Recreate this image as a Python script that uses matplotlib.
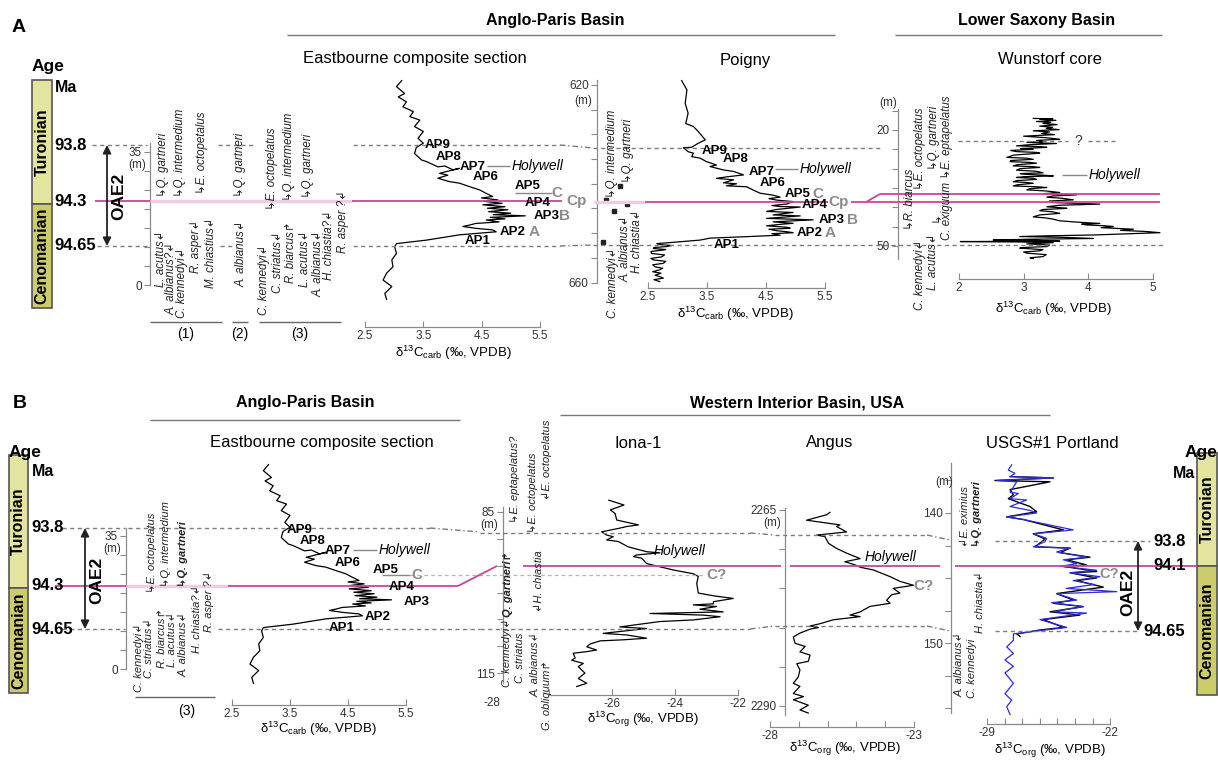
import matplotlib
matplotlib.use("Agg")
import matplotlib.pyplot as plt
from matplotlib.patches import Rectangle

W, H = 1218, 761

# ---------------- data ----------------
# Eastbourne composite section (height in m above base, d13C carb)
east_height = [53.8, 52.2, 50.4, 49.5, 48.2, 46.9, 45.6, 44.3, 43.4, 41.7,
               40.4, 38.6, 37.3, 36.2, 34.6, 32.9, 32.5, 31.1, 31.3, 30.3,
               30.7, 29.4, 28.9, 28.1, 27.2, 26.8, 25.9, 25.0, 24.1, 23.3,
               22.9, 22.4, 22.0, 21.5, 21.1, 20.6, 20.2, 19.8, 19.3, 18.9,
               18.5, 18.2, 17.8, 17.4, 17.1, 16.6, 16.2, 15.8, 15.4, 14.9,
               14.5, 14.0, 13.2, 11.8, 10.9, 10.0, 8.3, 6.6, 4.8, 3.1,
               1.3, -0.4, -2.2, -3.8]
east_d13c = [3.13, 3.04, 3.18, 3.07, 3.21, 3.15, 3.33, 3.27, 3.44, 3.35,
             3.50, 3.41, 3.50, 3.38, 3.35, 3.47, 3.55, 3.75, 3.87, 4.01,
             4.12, 3.78, 3.92, 3.75, 3.95, 4.12, 4.29, 4.47, 4.58, 4.69,
             4.50, 4.78, 4.55, 4.85, 4.52, 4.90, 4.60, 4.95, 4.62, 5.00,
             4.70, 5.25, 4.65, 4.90, 4.58, 4.80, 4.40, 4.30, 4.18, 4.41,
             4.69, 4.75, 4.12, 3.55, 3.04, 3.01, 3.04, 2.96, 2.98, 2.87,
             2.81, 2.96, 2.84, 2.87]

# Poigny (depth m, d13C carb)
poigny_depth = [619.1, 621.0, 623.7, 625.7, 627.8, 628.4, 629.4, 631.1, 631.8, 632.6,
                632.7, 633.5, 633.8, 634.5, 634.8, 635.5, 636.2, 636.5, 637.2, 637.5,
                638.2, 638.6, 638.9, 639.2, 639.8, 640.0, 640.4, 640.6, 641.3, 641.9,
                642.3, 642.7, 643.0, 643.3, 643.6, 644.1, 644.4, 644.6, 644.7, 645.2,
                645.6, 645.8, 646.3, 646.5, 647.0, 647.3, 647.7, 648.0, 648.2, 648.5,
                648.8, 649.0, 649.2, 649.5, 649.7, 649.9, 650.1, 650.4, 650.7, 651.0,
                651.4, 651.9, 652.1, 652.3, 652.5, 652.7, 652.9, 653.1, 653.3, 653.4,
                653.7, 654.1, 654.4, 654.8, 655.1, 655.4, 655.7, 656.1, 656.4, 656.8,
                657.1, 657.4, 657.8, 658.1, 658.5, 658.8, 659.1, 659.4, 659.8]
poigny_d13c = [3.07, 3.16, 3.13, 3.18, 3.14, 3.27, 3.35, 3.47, 3.35, 3.24,
               3.10, 3.18, 3.27, 3.24, 3.38, 3.49, 3.66, 3.55, 3.78, 3.95,
               4.12, 3.83, 3.66, 3.95, 3.78, 4.00, 3.83, 4.17, 4.29, 4.40,
               4.62, 4.74, 4.55, 4.68, 4.96, 4.85, 4.60, 4.74, 5.08, 4.68,
               4.51, 4.96, 4.62, 5.08, 4.51, 5.30, 4.62, 4.96, 4.75, 4.51,
               4.85, 4.91, 4.55, 4.68, 4.85, 4.96, 4.60, 4.74, 4.17, 3.55,
               3.38, 2.87, 2.65, 2.70, 2.90, 2.82, 2.60, 2.59, 2.80, 2.76,
               2.55, 2.56, 2.78, 2.73, 2.55, 2.59, 2.80, 2.76, 2.58, 2.62,
               2.75, 2.70, 2.58, 2.72, 2.62, 2.70, 2.76, 2.60, 2.70]
poigny_sample_depth = [651.8, 643.3, 645.5, 640.4, 644.1]

# Wunstorf core (depth m, d13C carb)
wun_depth = [17.0, 17.1, 17.2, 17.5, 17.8, 18.0, 18.3, 18.6, 19.0, 19.3,
             19.6, 19.9, 20.2, 20.5, 20.9, 21.2, 21.6, 22.0, 22.4, 22.7,
             23.0, 23.2, 23.5, 23.8, 24.1, 24.3, 24.5, 24.8, 25.0, 25.3,
             25.6, 25.8, 26.0, 26.5, 27.1, 27.3, 27.6, 27.9, 28.2, 28.4,
             28.6, 29.0, 29.3, 29.5, 29.7, 30.0, 30.4, 30.7, 31.1, 31.3,
             31.5, 31.7, 31.9, 32.1, 32.3, 32.5, 32.8, 33.1, 33.4, 33.6,
             33.8, 34.2, 34.5, 34.7, 34.9, 35.2, 35.5, 35.8, 36.2, 36.5,
             36.8, 37.1, 37.4, 37.7, 38.1, 38.4, 38.8, 39.0, 39.2, 39.5,
             39.9, 40.1, 40.3, 40.6, 40.9, 41.2, 41.6, 42.0, 42.5, 42.8,
             43.1, 43.5, 43.8, 44.0, 44.2, 44.4, 44.6, 44.8, 45.0, 45.3,
             45.7, 46.0, 46.3, 46.6, 46.9, 47.2, 47.4, 47.6, 47.8, 48.1,
             48.3, 48.5, 48.6, 48.8, 48.9, 49.0, 49.2, 49.5, 49.8, 50.2,
             50.4, 50.6, 51.0, 51.3, 51.6, 51.9, 52.3, 52.8, 53.1, 53.3]
wun_d13c = [3.15, 3.45, 3.25, 3.50, 3.20, 3.42, 3.30, 3.52, 3.25, 3.45,
            3.35, 3.55, 3.15, 3.40, 3.28, 3.48, 3.00, 3.35, 3.56, 3.20,
            3.30, 3.05, 3.51, 3.10, 2.89, 3.25, 3.36, 2.95, 3.15, 2.80,
            2.89, 3.20, 3.25, 2.85, 2.74, 3.05, 3.15, 2.80, 2.79, 3.10,
            3.20, 2.90, 2.84, 3.15, 3.25, 2.95, 2.89, 3.20, 3.30, 2.95,
            3.05, 3.30, 3.46, 3.00, 2.89, 3.15, 3.20, 2.90, 2.84, 3.05,
            3.15, 2.90, 2.84, 3.20, 3.36, 3.10, 3.05, 3.35, 3.56, 3.30,
            3.82, 3.45, 3.36, 3.60, 3.77, 3.40, 3.46, 3.80, 4.18, 3.55,
            3.36, 3.55, 3.67, 3.30, 3.25, 3.45, 3.56, 3.25, 3.15, 3.35,
            3.46, 3.55, 3.77, 3.95, 4.18, 3.90, 3.98, 4.25, 4.39, 4.20,
            4.70, 4.50, 4.90, 5.11, 4.60, 4.08, 3.40, 2.94, 3.60, 4.08,
            3.10, 2.53, 3.20, 3.56, 2.02, 2.90, 3.46, 3.05, 3.40, 3.36,
            3.05, 2.94, 3.30, 3.25, 3.00, 3.05, 3.35, 3.30, 3.10, 3.15]

# Iona-1 (depth m, d13C org)
iona_depth = [82.8, 83.7, 84.6, 85.3, 86.5, 87.4, 87.7, 88.0, 88.7, 89.3,
              89.6, 90.2, 90.5, 91.5, 92.4, 92.6, 93.0, 93.3, 93.6, 94.6,
              95.2, 95.8, 96.5, 97.0, 98.3, 100.1, 100.6, 101.1, 101.7, 102.1,
              102.3, 102.6, 103.1, 103.6, 103.9, 104.2, 104.5, 105.1, 105.4, 106.4,
              106.7, 107.6, 107.9, 108.5, 108.8, 109.0, 109.6, 110.1, 110.7, 111.0,
              111.3, 112.2, 112.6, 113.2, 113.8, 115.0, 116.0, 116.9, 117.5]
iona_d13c = [-26.10, -25.62, -26.05, -25.90, -25.85, -25.16, -25.53, -25.75, -26.33, -26.17,
             -25.96, -26.17, -25.80, -25.48, -24.90, -24.48, -25.22, -25.32, -25.06, -24.90,
             -24.48, -24.05, -23.42, -23.26, -23.31, -23.26, -22.78, -22.15, -22.78, -22.78,
             -23.42, -22.68, -23.21, -22.47, -24.79, -23.10, -22.57, -23.42, -24.48, -25.75,
             -24.90, -26.28, -25.53, -24.90, -25.64, -26.38, -26.70, -26.80, -26.49, -26.80,
             -27.23, -27.17, -27.28, -26.91, -27.07, -26.86, -27.07, -26.80, -27.12]

# Angus (depth m, d13C org)
angus_depth = [2265.3, 2265.6, 2266.3, 2266.9, 2267.1, 2267.8, 2268.2, 2268.4, 2269.25, 2269.9,
               2270.5, 2271.2, 2271.6, 2272.0, 2272.3, 2272.65, 2273.5, 2274.1, 2274.6, 2275.0,
               2275.6, 2275.8, 2276.5, 2276.9, 2277.3, 2278.0, 2278.4, 2278.6, 2279.0, 2279.5,
               2279.8, 2280.0, 2280.2, 2280.7, 2281.2, 2282.0, 2282.4, 2283.1, 2283.5, 2284.3,
               2284.6, 2285.4, 2286.3, 2287.1, 2287.5, 2288.4, 2288.8, 2289.2, 2289.9, 2290.5,
               2290.9]
angus_d13c = [-25.92, -26.03, -26.73, -25.57, -25.69, -25.34, -26.38, -26.09, -25.97, -25.69,
              -25.34, -24.87, -25.40, -25.05, -24.87, -24.41, -23.83, -23.49, -23.02, -23.72,
              -23.49, -23.77, -23.95, -23.83, -24.53, -24.87, -25.22, -24.87, -25.80, -26.26,
              -26.61, -26.32, -26.61, -26.96, -27.19, -27.13, -26.78, -26.96, -26.61, -26.67,
              -27.07, -26.96, -27.02, -27.19, -26.96, -27.19, -26.84, -27.19, -26.67, -26.96,
              -26.67]

# USGS#1 Portland (depth m, d13C org), two records
port_blue_depth = [136.3, 136.7, 136.95, 137.2, 137.3, 137.5, 137.6, 138.0, 138.4, 138.5,
                   138.9, 139.0, 139.5, 139.8, 140.0, 140.3, 140.5, 141.3, 141.6, 141.95,
                   142.2, 142.6, 142.7, 143.0, 143.4, 143.6, 143.9, 144.1, 144.4, 144.6,
                   144.9, 145.2, 145.5, 145.8, 146.05, 146.2, 146.7, 146.9, 147.2, 147.6,
                   147.7, 148.2, 148.8, 149.05, 149.3, 149.8, 150.3, 150.8, 151.3, 151.8,
                   152.3, 153.1, 153.9, 154.4, 154.9, 155.5]
port_blue_d13c = [-27.60, -27.79, -27.41, -27.69, -25.23, -28.45, -27.31, -27.50, -27.69, -27.22,
                  -27.69, -26.75, -27.69, -26.56, -26.18, -27.88, -26.94, -24.10, -26.37, -25.61,
                  -25.70, -26.37, -24.28, -25.04, -23.34, -24.66, -23.90, -24.85, -22.77, -24.28,
                  -22.58, -24.10, -22.90, -24.50, -21.63, -25.04, -23.90, -25.33, -23.53, -25.23,
                  -23.34, -25.99, -24.47, -25.99, -27.50, -27.50, -27.88, -27.50, -27.98, -27.50,
                  -27.98, -27.50, -27.98, -27.60, -27.88, -27.69]
port_black_depth = [137.2, 137.3, 137.5, 137.6, 138.2, 138.6, 138.9, 139.5, 139.9, 140.3,
                    140.5, 141.3, 141.6, 142.0, 142.6, 142.7, 143.05, 143.4, 143.6, 144.0,
                    144.1, 144.5, 144.6, 145.0, 145.2, 145.7, 146.2, 146.7, 146.95, 147.2,
                    147.6, 147.85, 148.2, 148.8, 149.0, 149.3, 149.5]
port_black_d13c = [-27.69, -25.23, -28.55, -25.42, -27.69, -27.50, -27.79, -26.56, -26.18, -27.88,
                   -26.94, -24.66, -26.37, -25.70, -26.27, -24.28, -24.85, -23.15, -24.47, -23.34,
                   -24.66, -22.77, -24.28, -22.77, -23.90, -22.39, -25.04, -24.10, -25.23, -23.53,
                   -25.42, -23.72, -25.80, -24.66, -25.99, -27.31, -27.12]

stages = ["Turonian", "Cenomanian"]
ages_a = ["93.8", "94.3", "94.65"]
ages_b_right = ["93.8", "94.1", "94.65"]
ap_names = ["AP9", "AP8", "AP7", "AP6", "AP5", "AP4", "AP3", "AP2", "AP1"]

carb_label = "δ$^{13}$C$_{carb}$ (‰, VPDB)"
org_label = "δ$^{13}$C$_{org}$ (‰, VPDB)"

# ---------------- style ----------------
plt.rcParams["font.family"] = ["Liberation Sans", "DejaVu Sans"]
plt.rcParams["mathtext.default"] = "regular"

GREY = "#8a8a8a"
TXT = "#333333"
PINK = "#c4479c"
PINK_L = "#efcbe4"
DASH = "#7c7c7c"
TUR = "#e3e49e"
CEN = "#cccc6c"

fig = plt.figure(figsize=(W / 100, H / 100), dpi=100)
ov = fig.add_axes([0, 0, 1, 1], zorder=10)
ov.set_xlim(0, W)
ov.set_ylim(H, 0)
ov.axis("off")


def txt(x, y, s, size=9, **kw):
    kw.setdefault("ha", "center")
    kw.setdefault("va", "center")
    ov.text(x, y, s, fontsize=size, **kw)


def seg(xs, ys, color=DASH, lw=1.0, ls="-"):
    ov.plot(xs, ys, color=color, lw=lw, ls=ls, solid_capstyle="butt")


def dashed(x0, x1, y0, y1=None):
    seg([x0, x1], [y0, y0 if y1 is None else y1], ls=(0, (3, 2.5)))


def dashdot(x0, x1, y0, y1):
    seg([x0, x1], [y0, y1], ls=(0, (4, 2, 1, 2)))


def pink(x0, x1, y0, y1=None, light=False):
    seg([x0, x1], [y0, y0 if y1 is None else y1],
        color=PINK_L if light else PINK, lw=2.4 if light else 1.3)


def species(x, y, s, bold=False, size=8.3):
    ov.text(x, y, s, rotation=90, rotation_mode="anchor", ha="left", va="center",
            fontsize=size, style="italic", weight="bold" if bold else "normal", color="#222222")


def age_column(x0, x1, top, mid, bottom):
    ov.add_patch(Rectangle((x0, top), x1 - x0, mid - top, facecolor=TUR, edgecolor="#555555", lw=1.2))
    ov.add_patch(Rectangle((x0, mid), x1 - x0, bottom - mid, facecolor=CEN, edgecolor="#555555", lw=1.2))
    xc = (x0 + x1) / 2
    txt(xc, (top + mid) / 2, stages[0], 11.5, weight="bold", rotation=90)
    txt(xc, (mid + bottom) / 2, stages[1], 11.5, weight="bold", rotation=90)


def oae_arrow(x, y0, y1, xl, yl):
    ov.annotate("", xy=(x, y0), xytext=(x, y1),
                arrowprops=dict(arrowstyle="<|-|>", color="#222222", lw=1.3,
                                mutation_scale=12, shrinkA=0, shrinkB=0))
    txt(xl, yl, "OAE2", 12.5, weight="bold", rotation=90)


def val(px, m):
    px0, v0, s = m
    return v0 + (px - px0) / s


def panel(box, xmap, ymap, xticks, xlabels, xbounds, yticks, ylabels, ybounds, spine_px=None):
    left, top, right, bottom = box
    ax = fig.add_axes([left / W, 1 - bottom / H, (right - left) / W, (bottom - top) / H])
    ax.set_xlim(val(left, xmap), val(right, xmap))
    ax.set_ylim(val(bottom, ymap), val(top, ymap))
    ax.patch.set_visible(False)
    ax.spines["top"].set_visible(False)
    ax.spines["right"].set_visible(False)
    for sp in ["left", "bottom"]:
        ax.spines[sp].set_color(GREY)
        ax.spines[sp].set_linewidth(0.9)
    ax.spines["bottom"].set_bounds(*xbounds)
    ax.spines["left"].set_bounds(*ybounds)
    if spine_px is not None:
        ax.spines["left"].set_position(("data", val(spine_px, xmap)))
    ax.set_xticks(xticks)
    ax.set_xticklabels(xlabels)
    ax.set_yticks(yticks)
    ax.set_yticklabels(ylabels)
    ax.tick_params(axis="x", direction="in", length=4, color=GREY, labelsize=8.5,
                   labelcolor=TXT, pad=2)
    ax.tick_params(axis="y", direction="out", length=4, color=GREY, labelsize=8.5,
                   labelcolor=TXT, pad=2)
    return ax


def only_ends(ticks):
    return [str(t) if i in (0, len(ticks) - 1) else "" for i, t in enumerate(ticks)]


# ======================= PANEL A =======================
txt(19, 28, "A", 14, weight="bold")
txt(555, 20, "Anglo-Paris Basin", 11.5, weight="bold")
seg([287, 835], [35, 35], color="#777777", lw=1.0)
txt(1037, 20, "Lower Saxony Basin", 11.5, weight="bold")
seg([895, 1162], [35, 35], color="#777777", lw=1.0)
txt(415, 58, "Eastbourne composite section", 12)
txt(745, 60, "Poigny", 12)
txt(1050, 60, "Wunstorf core", 12)

txt(32, 67, "Age", 12.5, weight="bold", ha="left")
age_column(32, 52, 80, 204, 308)
txt(55, 88, "Ma", 11.5, weight="bold", ha="left")
for lab, y in zip(ages_a, [145, 201, 246]):
    txt(54, y, lab, 12, weight="bold", ha="left")
oae_arrow(107, 145, 246, 119, 196)

# time lines
dashed(92, 147, 145)
dashed(218, 253, 145)
dashed(353, 560, 145)
dashdot(560, 593, 145, 148)
dashed(593, 880, 148)
dashed(958, 1068, 141)
dashed(1088, 1115, 141)
txt(1078, 141, "?", 10, color="#333333")
dashed(97, 147, 246)
dashed(220, 235, 246)
dashed(353, 560, 246)
dashdot(560, 593, 246, 245)
dashed(593, 1165, 245)

pink(95, 150, 201)
pink(150, 352, 201, light=True)
pink(352, 562, 201)
pink(594, 645, 201.5, light=True)
pink(645, 828, 201.5)
pink(851, 867, 201.5)
pink(867, 880, 201.5, 194)
pink(880, 1160, 194)
pink(867, 1160, 201.5)

# Eastbourne (A)
axA1 = panel((150, 75, 545, 327), (365, 2.5, 58.3), (285, 0, -3.8),
             [2.5, 3.5, 4.5, 5.5], ["2.5", "3.5", "4.5", "5.5"], (2.5, 5.5),
             list(range(0, 40, 5)), only_ends(list(range(0, 40, 5))), (0, 37.4))
axA1.plot(east_d13c, east_height, color="black", lw=0.9, clip_on=False)
txt(146, 165, "(m)", 8.5, ha="right", color=TXT)
txt(453, 353, carb_label, 9.5)

# Poigny
poigny_x = (648, 2.5, 59)
axA2 = panel((597, 78, 830, 288), poigny_x, (85, 620, 4.94),
             [2.5, 3.5, 4.5, 5.5], ["2.5", "3.5", "4.5", "5.5"], (2.5, 5.5),
             list(range(620, 665, 5)), only_ends(list(range(620, 665, 5))), (619, 660))
axA2.plot(poigny_d13c, poigny_depth, color="black", lw=0.9, clip_on=False)
sample_x = [val(px, poigny_x) for px in [603, 606, 614, 620, 627]]
axA2.plot(sample_x, poigny_sample_depth, ls="none", marker="s", ms=3.5, color="#222222", clip_on=False)
txt(592, 101, "(m)", 8.5, ha="right", color=TXT)
txt(735, 314, carb_label, 9.5)

# Wunstorf
axA3 = panel((898, 105, 1160, 279), (959, 2, 64.6), (130, 20, 3.86),
             [2, 3, 4, 5], ["2", "3", "4", "5"], (2, 5),
             list(range(15, 55, 5)), ["", "20", "", "", "", "", "", "50"], (14.6, 53.4))
axA3.plot(wun_d13c, wun_depth, color="black", lw=0.9, clip_on=False)
txt(888, 103, "(m)", 8.5, color=TXT)
txt(1053, 309, carb_label, 9.5)

# AP labels (A)
for name, (x, y) in zip(ap_names, [(438, 145), (449, 157), (473, 167), (486, 177), (528, 186),
                                    (538, 203), (547, 216), (513, 232), (478, 241)]):
    txt(x, y, name, 9.5, weight="bold")
for name, (x, y) in zip(ap_names, [(715, 151), (736, 159), (762, 172), (773, 183), (798, 194),
                                    (815, 205), (832, 220), (810, 233), (727, 245)]):
    txt(x, y, name, 9.5, weight="bold")
seg([487, 510], [166, 166], color="#888888")
txt(512, 166, "Holywell", 10, style="italic", ha="left")
seg([515, 552], [193, 193], color="#888888")
for s, x, y in [("C", 557, 193), ("Cp", 577, 201), ("B", 565, 216), ("A", 534, 232),
                ("C", 818, 194), ("Cp", 839, 202), ("B", 852, 220), ("A", 830, 233)]:
    txt(x, y, s, 11, weight="bold", color="#8c8c8c")
seg([775, 798], [169, 169], color="#888888")
txt(800, 169, "Holywell", 10, style="italic", ha="left")
seg([1062, 1087], [175, 175], color="#888888")
txt(1089, 175, "Holywell", 10, style="italic", ha="left")

# biostratigraphy A
for x, y, s in [(161, 287, "L. acutus↲"), (171, 315, "A. albianus?↲"), (182, 318, "C. kennedyi↲"),
                (196, 273, "R. asper↲"), (211, 288, "M. chiastius↲"), (163, 197, "↳Q. gartneri"),
                (180, 197, "↳Q. intermedium"), (202, 194, "↳E. octopetalus"),
                (240, 197, "↳Q. gartneri"), (241, 287, "A. albianus↲"),
                (264, 315, "C. kennedyi↲"), (278, 293, "C. striatus↲"), (291, 283, "R. biarcus↱"),
                (305, 287, "L. acutus↲"), (318, 297, "A. albianus↲"), (329, 280, "H. chiastia?↲"),
                (343, 253, "R. asper ?↲"), (272, 210, "↳E. octopelatus"),
                (289, 201, "↳Q. intermedium"), (308, 198, "↳Q. gartneri"),
                (613, 318, "C. kennedyi↲"), (625, 282, "A. albianus↲"), (637, 273, "H. chiastia↲"),
                (612, 198, "↳Q. intermedium"), (628, 183, "↳Q. gartneri"),
                (920, 310, "C. kennedyi↲"), (910, 230, "↳R. biarcus"), (933, 290, "L. acutus↲"),
                (920, 190, "↳E. octopelatus"), (934, 170, "↳Q. gartneri"),
                (947, 240, "C. exiguum ↳E. eptapelatus")]:
    species(x, y, s)
species(937, 222, "↳")
seg([150, 222], [322, 322], color="#666666")
seg([232, 248], [322, 322], color="#666666")
seg([259, 341], [322, 322], color="#666666")
txt(186, 334, "(1)", 10)
txt(240, 334, "(2)", 10)
txt(300, 334, "(3)", 10)

# ======================= PANEL B =======================
txt(20, 404, "B", 14, weight="bold")
txt(305, 403, "Anglo-Paris Basin", 11.5, weight="bold")
seg([150, 460], [420, 420], color="#777777", lw=1.0)
txt(797, 403, "Western Interior Basin, USA", 11.5, weight="bold")
seg([560, 1050], [415, 415], color="#777777", lw=1.0)
txt(322, 443, "Eastbourne composite section", 12)
txt(638, 443, "Iona-1", 12)
txt(830, 443, "Angus", 12)
txt(1052, 443, "USGS#1 Portland", 12)

txt(9, 452, "Age", 12.5, weight="bold", ha="left")
age_column(9, 28, 455, 588, 693)
txt(32, 472, "Ma", 11.5, weight="bold", ha="left")
for lab, y in zip(ages_a, [528, 586, 629]):
    txt(31, y, lab, 12, weight="bold", ha="left")
oae_arrow(85, 528, 629, 97, 580)

txt(1201, 452, "Age", 12.5, weight="bold")
age_column(1197, 1217, 453, 566, 695)
txt(1195, 473, "Ma", 11.5, weight="bold", ha="right")
for lab, x, y in zip(ages_b_right, [1153, 1153, 1143], [541, 566, 631]):
    txt(x, y, lab, 12, weight="bold", ha="left")
oae_arrow(1138, 541, 631, 1128, 592)

dashed(62, 125, 528)
dashed(128, 430, 528)
dashdot(430, 480, 528, 532)
dashed(480, 750, 533)
dashdot(750, 775, 533, 535)
dashed(775, 927, 535)
dashdot(927, 950, 535, 540)
dashed(995, 1150, 541)
dashed(62, 125, 629)
dashed(218, 480, 629)
dashed(480, 750, 629)
dashdot(750, 775, 629, 626)
dashed(775, 927, 626)
dashdot(927, 950, 626, 631)
dashed(995, 1140, 631)
seg([410, 705], [575, 575], color="#b5b5b5", lw=0.9, ls=(0, (3, 2.5)))

pink(55, 126, 586)
pink(126, 228, 586, light=True)
pink(228, 458, 586)
pink(458, 497, 586, 566)
pink(523, 781, 566)
pink(790, 940, 566)
pink(955, 1197, 566)

# Eastbourne (B)
axB1 = panel((126, 460, 412, 705), (232, 2.5, 58), (669, 0, -3.8),
             [2.5, 3.5, 4.5, 5.5], ["2.5", "3.5", "4.5", "5.5"], (2.5, 5.5),
             list(range(0, 40, 5)), only_ends(list(range(0, 40, 5))), (0, 37.1))
axB1.plot(east_d13c, east_height, color="black", lw=0.9, clip_on=False)
txt(121, 549, "(m)", 8.5, ha="right", color=TXT)
txt(318, 729, carb_label, 9.5)

# Iona-1
axB2 = panel((503, 500, 745, 695), (549, -28, 31.5), (512, 85, 5.37),
             [-28, -26, -24, -22], ["", "-26", "-24", "-22"], (-28, -22),
             list(range(85, 120, 5)), only_ends(list(range(85, 120, 5))), (84.1, 116.8))
axB2.plot(iona_d13c, iona_depth, color="black", lw=0.9, clip_on=False)
txt(489, 525, "(m)", 8.5, color=TXT)
txt(492, 703, "-28", 8.5, color=TXT)
txt(643, 719, org_label, 9.5)

# Angus
axB3 = panel((770, 495, 920, 727), (770, -28, 28.8), (510, 2265, 7.84),
             list(range(-28, -22)), ["-28", "", "", "", "", "-23"], (-28, -23),
             list(range(2265, 2295, 5)), only_ends(list(range(2265, 2295, 5))), (2264.8, 2291.2),
             spine_px=785)
axB3.plot(angus_d13c, angus_depth, color="black", lw=0.9, clip_on=False)
txt(772, 523, "(m)", 8.5, color=TXT)
txt(845, 748, org_label, 9.5)

# Portland
axB4 = panel((951, 455, 1115, 724), (987, -29, 17.6), (513, 140, 13),
             list(range(-29, -21)), ["-29", "", "", "", "", "", "", "-22"], (-29, -22),
             [137.5 + 2.5 * i for i in range(8)], ["", "140", "", "", "", "150", "", ""],
             (136.15, 155.4))
axB4.plot(port_black_d13c, port_black_depth, color="black", lw=1.0, clip_on=False)
axB4.plot(port_blue_d13c, port_blue_depth, color="#2b2bdc", lw=0.9, clip_on=False)
txt(944, 482, "(m)", 8.5, color=TXT)
txt(1050, 750, org_label, 9.5)

# AP labels (B)
for name, (x, y) in zip(ap_names, [(300, 530), (313, 541), (338, 551), (348, 563), (386, 570),
                                    (402, 587), (417, 602), (378, 617), (342, 628)]):
    txt(x, y, name, 9.5, weight="bold")
seg([353, 377], [550, 550], color="#888888")
txt(379, 550, "Holywell", 10, style="italic", ha="left")
seg([382, 410], [575, 575], color="#888888")
txt(417, 575, "C", 11, weight="bold", color="#8c8c8c")
txt(654, 551, "Holywell", 10, style="italic", ha="left")
txt(706, 575, "C?", 11, weight="bold", color="#8c8c8c", ha="left")
txt(865, 557, "Holywell", 10, style="italic", ha="left")
txt(913, 586, "C?", 11, weight="bold", color="#8c8c8c", ha="left")
txt(1099, 574, "C?", 10.5, weight="bold", color="#8c8c8c", ha="left")

# biostratigraphy B
for x, y, s, b in [(139, 692, "C. kennedyi↲", False), (149, 678, "C. striatus↲", False),
                   (162, 668, "R. biarcus↱", False), (172, 667, "L. acutus↲", False),
                   (184, 677, "A. albianus↲", False), (197, 653, "H. chiastia?↲", False),
                   (209, 632, "R. asper ?↲", False), (152, 593, "↳E. octopelatus", False),
                   (166, 587, "↳Q. intermedium", False), (183, 587, "↳Q. gartneri", True),
                   (507, 687, "C. kennedyi↲", False), (520, 683, "C. striatus", False),
                   (508, 617, "Q. gartneri↱", True), (515, 523, "↳E. eptapelatus?", False),
                   (533, 533, "↳E. octopelatus", False), (547, 500, "↲E. octopelatus", False),
                   (539, 612, "↲H. chiastia", False), (536, 697, "A. albianus↲", False),
                   (547, 730, "G. obliquum↱", False),
                   (965, 547, "↲E. eximius", False), (977, 547, "↳Q. gartneri", True),
                   (980, 633, "H. chiastia↲", False), (960, 697, "A. albianus↲", False),
                   (972, 698, "C. kennedyi", False)]:
    species(x, y, s, b, size=8.0)
seg([135, 215], [697, 697], color="#666666")
txt(187, 711, "(3)", 10)

fig.savefig("out.png", dpi=100)
